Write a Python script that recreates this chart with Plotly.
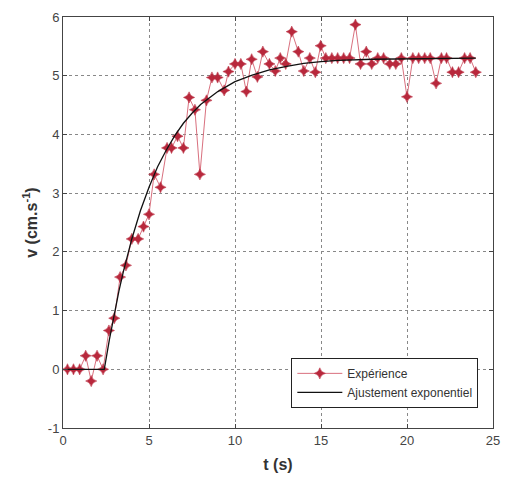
import plotly.graph_objects as go

t_exp = [0.26, 0.61, 0.97, 1.32, 1.64, 1.98, 2.33, 2.67, 2.98, 3.32, 3.66, 4.0,
         4.37, 4.68, 5.0, 5.3, 5.67, 6.05, 6.31, 6.66, 7.0, 7.33, 7.67, 7.96,
         8.34, 8.66, 8.99, 9.37, 9.62, 10.0, 10.34, 10.66, 10.97, 11.3, 11.62, 12.0,
         12.34, 12.63, 12.95, 13.3, 13.68, 14.0, 14.35, 14.67, 14.98, 15.28, 15.63, 15.97,
         16.32, 16.66, 17.0, 17.3, 17.63, 17.95, 18.3, 18.64, 19.0, 19.35, 19.67, 20.0,
         20.34, 20.68, 21.03, 21.35, 21.69, 22.0, 22.3, 22.64, 23.0, 23.35, 23.67, 24.0]
v_exp = [0, 0, 0, 0.23, -0.2, 0.23, 0, 0.66, 0.87, 1.57, 1.77, 2.22,
         2.22, 2.43, 2.64, 3.32, 3.1, 3.77, 3.77, 3.97, 3.77, 4.63, 4.42, 3.32,
         4.58, 4.97, 4.97, 4.75, 5.07, 5.2, 5.2, 4.73, 5.28, 4.98, 5.41, 5.2,
         5.08, 5.3, 5.2, 5.75, 5.41, 5.08, 5.3, 5.06, 5.51, 5.3, 5.3, 5.3,
         5.3, 5.3, 5.87, 5.2, 5.41, 5.2, 5.3, 5.3, 5.2, 5.2, 5.3, 4.64,
         5.3, 5.3, 5.3, 5.3, 4.87, 5.3, 5.3, 5.06, 5.06, 5.3, 5.3, 5.06]

# Exponential fit curve
t_fit = [0.26, 2.4, 2.7, 3.0, 3.25, 3.5, 4.0, 4.5, 5.0, 5.5, 6.0, 6.5, 7.0, 7.5, 8.0,
         9.0, 10.0, 11.0, 12.0, 13.0, 14.0, 15.0, 16.0, 18.0, 20.0, 22.0, 24.0]
v_fit = [0.0, 0.0, 0.51, 0.98, 1.33, 1.65, 2.22, 2.70, 3.10, 3.45, 3.73, 3.98, 4.19, 4.36, 4.51,
         4.73, 4.90, 5.01, 5.10, 5.16, 5.21, 5.24, 5.26, 5.28, 5.29, 5.30, 5.30]

x_ticks = [0, 5, 10, 15, 20, 25]
y_ticks = [-1, 0, 1, 2, 3, 4, 5, 6]
y_tick_text = ["-1", "0", "1", "2", "3", "4", "5", "6"]

font_main = "Liberation Sans Narrow, Liberation Sans, Arial, sans-serif"

fig = go.Figure()
fig.add_trace(go.Scatter(
    x=t_exp, y=v_exp, mode="lines+markers", name="Expérience",
    line=dict(color="#d9707e", width=1),
    marker=dict(symbol="star-diamond", size=8, color="#b8283c",
                line=dict(color="#b8283c", width=0.5)),
))
fig.add_trace(go.Scatter(
    x=t_fit, y=v_fit, mode="lines", name="Ajustement exponentiel",
    line=dict(color="#111111", width=1.3),
))

axis_common = dict(
    showgrid=True, gridcolor="#888888", griddash="dot", gridwidth=1,
    showline=True, linecolor="#444444", linewidth=1, mirror="ticks",
    ticks="inside", ticklen=4, tickcolor="#444444",
    zeroline=False,
    tickfont=dict(family=font_main, size=13, color="#444444"),
)

fig.update_layout(
    width=510, height=482,
    margin=dict(l=63, r=10, t=16, b=54),
    paper_bgcolor="white", plot_bgcolor="white",
    showlegend=True,
    legend=dict(
        x=0.531, y=0.049, xanchor="left", yanchor="bottom",
        bgcolor="white", bordercolor="#222222", borderwidth=1,
        font=dict(family=font_main, size=12, color="#333333"),
        itemwidth=45, tracegroupgap=2,
    ),
    xaxis=dict(range=[0, 25], tickvals=x_ticks, **axis_common,
               title=dict(text="<b>t (s)</b>", standoff=12,
                          font=dict(family="Liberation Sans, Arial, sans-serif", size=16, color="#333333"))),
    yaxis=dict(range=[-1, 6], tickvals=y_ticks, ticktext=y_tick_text, **axis_common,
               title=dict(text="<b>v (cm.s<sup>-1</sup>)</b>", standoff=6,
                          font=dict(family="Liberation Sans, Arial, sans-serif", size=16, color="#333333"))),
)

fig.write_html("out.html")
